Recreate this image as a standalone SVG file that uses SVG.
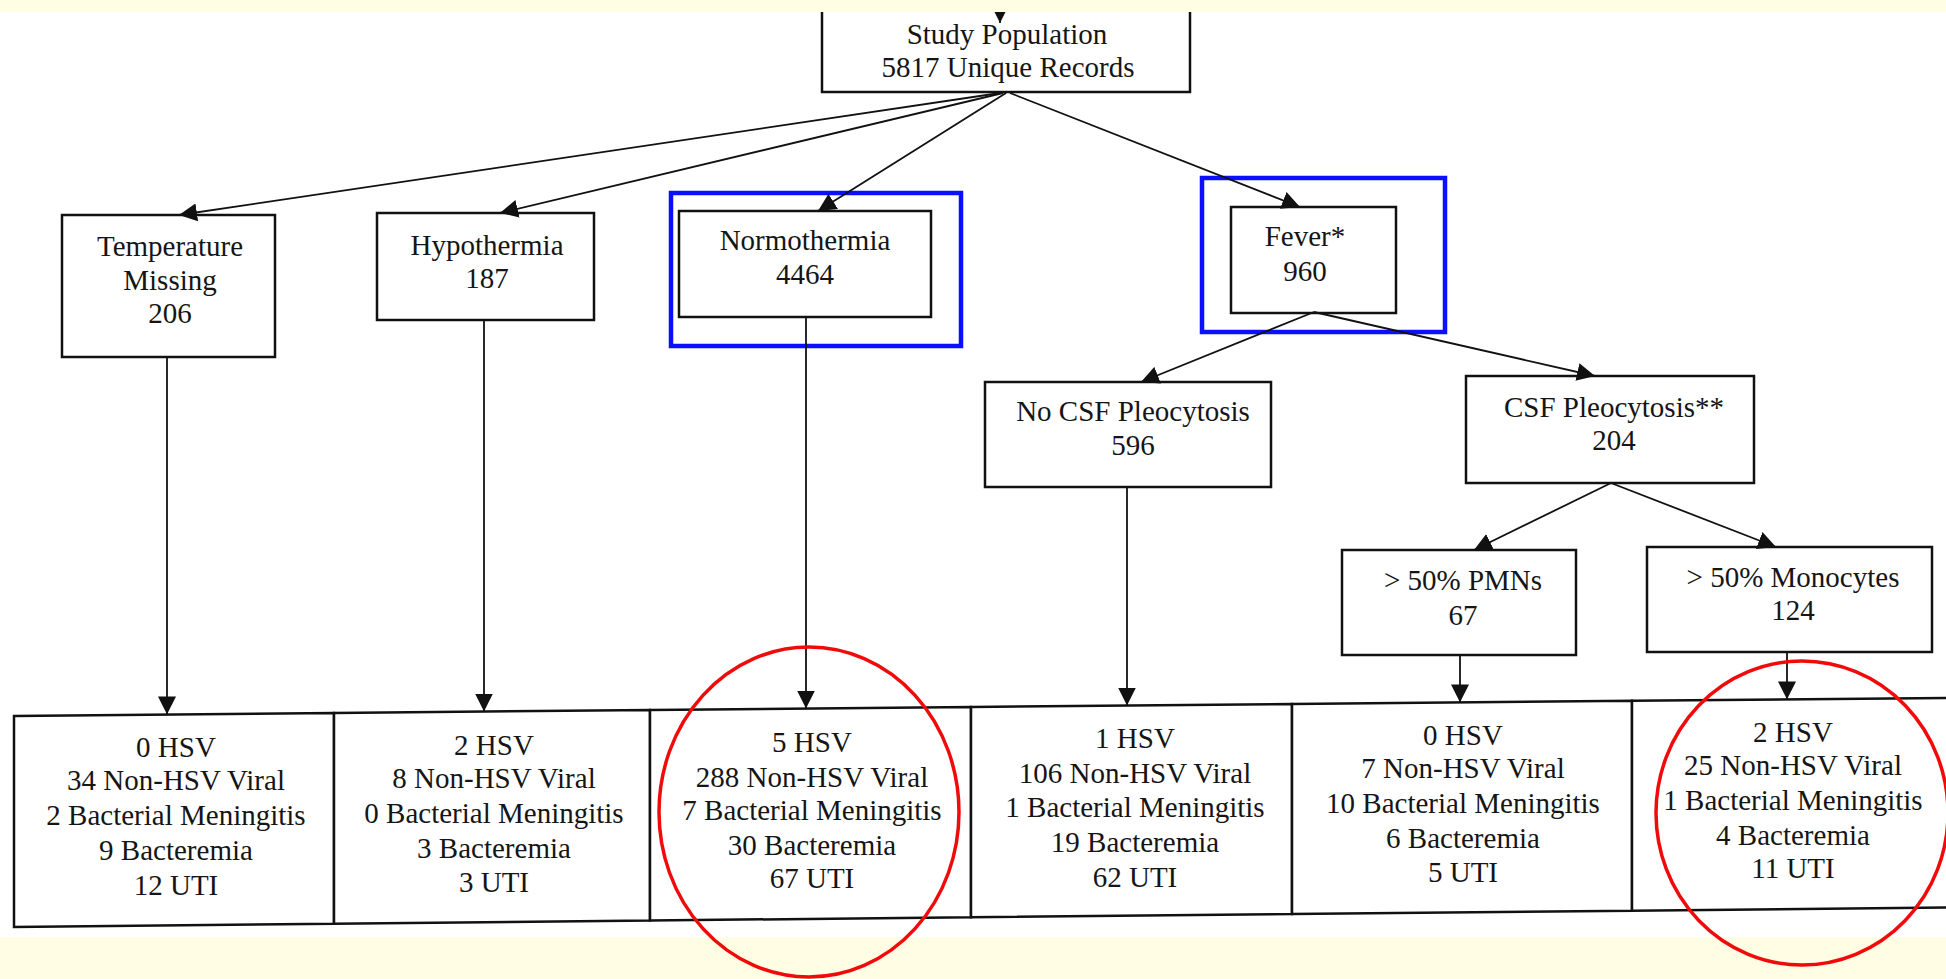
<svg xmlns="http://www.w3.org/2000/svg" width="1946" height="979" viewBox="0 0 1946 979">
<style>
  .box{fill:#fff;stroke:#111;stroke-width:2.5}
  .cell{fill:#fff;stroke:#111;stroke-width:2.5;stroke-linejoin:miter}
  .lbl{font-family:"Liberation Serif","Times New Roman",serif;font-size:29px;fill:#151515;text-anchor:middle}
  .conn line{stroke:#111;stroke-width:1.8;marker-end:url(#arr)}
  .hl{fill:none;stroke:#0a10ff;stroke-width:4.5}
  .circ{fill:none;stroke:#f00a0a;stroke-width:3.5}
  .band{fill:#fffde4}
</style>
<defs>
  <marker id="arr" viewBox="0 0 18 18" markerWidth="18" markerHeight="18" refX="18" refY="9" orient="auto" markerUnits="userSpaceOnUse">
    <path d="M0,0 L18,9 L0,18 z" fill="#111"/>
  </marker>
</defs>
<rect x="0" y="0" width="1946" height="979" fill="#fff"/>

<g id="study">
  <rect class="box" x="822" y="-10" width="368" height="102"/>
  <text class="lbl" x="1007" y="44">Study Population</text>
  <text class="lbl" x="1008" y="77">5817 Unique Records</text>
</g>

<g id="temp-missing">
  <rect class="box" x="62" y="215" width="213" height="142"/>
  <text class="lbl" x="170" y="256">Temperature</text>
  <text class="lbl" x="170" y="290">Missing</text>
  <text class="lbl" x="170" y="323">206</text>
</g>

<g id="hypothermia">
  <rect class="box" x="377" y="213" width="217" height="107"/>
  <text class="lbl" x="487" y="255">Hypothermia</text>
  <text class="lbl" x="487" y="288">187</text>
</g>

<g id="normothermia">
  <rect class="box" x="679" y="211" width="252" height="106"/>
  <text class="lbl" x="805" y="250">Normothermia</text>
  <text class="lbl" x="805" y="284">4464</text>
  <rect class="hl" x="671" y="193" width="290" height="153"/>
</g>

<g id="fever">
  <rect class="box" x="1231" y="207" width="165" height="106"/>
  <text class="lbl" x="1305" y="246">Fever*</text>
  <text class="lbl" x="1305" y="281">960</text>
  <rect class="hl" x="1202" y="178" width="243" height="154"/>
</g>

<g id="no-csf">
  <rect class="box" x="985" y="382" width="286" height="105"/>
  <text class="lbl" x="1133" y="421">No CSF Pleocytosis</text>
  <text class="lbl" x="1133" y="455">596</text>
</g>

<g id="csf">
  <rect class="box" x="1466" y="376" width="288" height="107"/>
  <text class="lbl" x="1614" y="417">CSF Pleocytosis**</text>
  <text class="lbl" x="1614" y="450">204</text>
</g>

<g id="pmns">
  <rect class="box" x="1342" y="550" width="234" height="105"/>
  <text class="lbl" x="1463" y="590">&gt; 50% PMNs</text>
  <text class="lbl" x="1463" y="625">67</text>
</g>

<g id="monocytes">
  <rect class="box" x="1647" y="547" width="285" height="105"/>
  <text class="lbl" x="1793" y="587">&gt; 50% Monocytes</text>
  <text class="lbl" x="1793" y="620">124</text>
</g>

<g id="out-temp">
  <polygon class="cell" points="14,715.9 334,712.9 334,923.7 14,926.9"/>
  <text class="lbl" x="176" y="757">0 HSV</text>
  <text class="lbl" x="176" y="790">34 Non-HSV Viral</text>
  <text class="lbl" x="176" y="825">2 Bacterial Meningitis</text>
  <text class="lbl" x="176" y="860">9 Bacteremia</text>
  <text class="lbl" x="176" y="895">12 UTI</text>
</g>

<g id="out-hypo">
  <polygon class="cell" points="334,712.9 650,710 650,920.5 334,923.7"/>
  <text class="lbl" x="494" y="755">2 HSV</text>
  <text class="lbl" x="494" y="788">8 Non-HSV Viral</text>
  <text class="lbl" x="494" y="823">0 Bacterial Meningitis</text>
  <text class="lbl" x="494" y="858">3 Bacteremia</text>
  <text class="lbl" x="494" y="892">3 UTI</text>
</g>

<g id="out-normo">
  <polygon class="cell" points="650,710 971,707 971,917.3 650,920.5"/>
  <text class="lbl" x="812" y="752">5 HSV</text>
  <text class="lbl" x="812" y="787">288 Non-HSV Viral</text>
  <text class="lbl" x="812" y="820">7 Bacterial Meningitis</text>
  <text class="lbl" x="812" y="855">30 Bacteremia</text>
  <text class="lbl" x="812" y="888">67 UTI</text>
</g>

<g id="out-nocsf">
  <polygon class="cell" points="971,707 1292,704 1292,914.1 971,917.3"/>
  <text class="lbl" x="1135" y="748">1 HSV</text>
  <text class="lbl" x="1135" y="783">106 Non-HSV Viral</text>
  <text class="lbl" x="1135" y="817">1 Bacterial Meningitis</text>
  <text class="lbl" x="1135" y="852">19 Bacteremia</text>
  <text class="lbl" x="1135" y="887">62 UTI</text>
</g>

<g id="out-pmns">
  <polygon class="cell" points="1292,704 1632,700.8 1632,910.7 1292,914.1"/>
  <text class="lbl" x="1463" y="745">0 HSV</text>
  <text class="lbl" x="1463" y="778">7 Non-HSV Viral</text>
  <text class="lbl" x="1463" y="813">10 Bacterial Meningitis</text>
  <text class="lbl" x="1463" y="848">6 Bacteremia</text>
  <text class="lbl" x="1463" y="882">5 UTI</text>
</g>

<g id="out-mono">
  <polygon class="cell" points="1632,700.8 1960,697.8 1960,907.4 1632,910.7"/>
  <text class="lbl" x="1793" y="742">2 HSV</text>
  <text class="lbl" x="1793" y="775">25 Non-HSV Viral</text>
  <text class="lbl" x="1793" y="810">1 Bacterial Meningitis</text>
  <text class="lbl" x="1793" y="845">4 Bacteremia</text>
  <text class="lbl" x="1793" y="878">11 UTI</text>
</g>

<g id="connectors" class="conn">
  <line x1="1000" y1="0" x2="1000" y2="23"/>
  <line x1="1000" y1="93" x2="179" y2="215"/>
  <line x1="1003" y1="93" x2="500" y2="213"/>
  <line x1="1006" y1="93" x2="818" y2="211"/>
  <line x1="1010" y1="93" x2="1300" y2="207"/>
  <line x1="1314" y1="312" x2="1141" y2="382"/>
  <line x1="1314" y1="312" x2="1595" y2="376"/>
  <line x1="1611" y1="483" x2="1474" y2="550"/>
  <line x1="1611" y1="483" x2="1776" y2="547"/>
  <line x1="167" y1="357" x2="167" y2="714.4"/>
  <line x1="484" y1="320" x2="484" y2="711.5"/>
  <line x1="806" y1="317" x2="806" y2="708.5"/>
  <line x1="1127" y1="487" x2="1127" y2="705.5"/>
  <line x1="1460" y1="655" x2="1460" y2="702.4"/>
  <line x1="1787" y1="652" x2="1787" y2="699.4"/>
</g>

<rect class="band" x="0" y="0" width="1946" height="12"/>
<rect class="band" x="0" y="937" width="1946" height="42"/>

<g id="highlights">
  <ellipse class="circ" cx="809" cy="812" rx="150" ry="165"/>
  <ellipse class="circ" cx="1802" cy="813" rx="146" ry="152"/>
</g>
</svg>
